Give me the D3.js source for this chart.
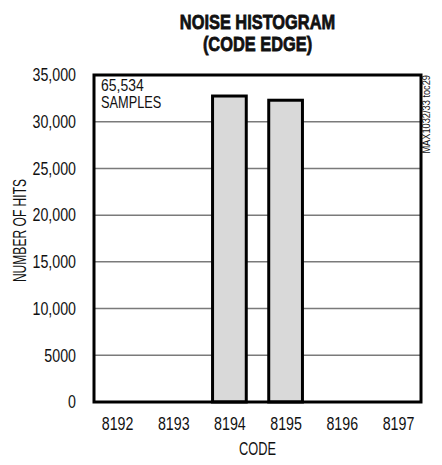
<!DOCTYPE html>
<html><head><meta charset="utf-8">
<script src="https://cdn.jsdelivr.net/npm/d3@7"></script>
<style>
html,body{margin:0;padding:0;background:#fff;}
text{font-family:"Liberation Sans",Arial,sans-serif;fill:#111;}
</style></head><body>
<svg id="c" width="442" height="465"></svg>
<script>
const codes = [8192, 8193, 8194, 8195, 8196, 8197];
const hits = [0, 0, 32750, 32300, 0, 0];
const yTicks = [0, 5000, 10000, 15000, 20000, 25000, 30000, 35000];
const yTickLabels = ["0", "5000", "10,000", "15,000", "20,000", "25,000", "30,000", "35,000"];
const titleLines = ["NOISE HISTOGRAM", "(CODE EDGE)"];
const noteLines = ["65,534", "SAMPLES"];

const svg = d3.select("#c");
const m = {l: 94, r: 421, t: 75, b: 402};
const x = d3.scaleLinear().domain([8191.59, 8197.41]).range([m.l, m.r]);
const y = d3.scaleLinear().domain([0, 35000]).range([m.b, m.t]);

function squeeze(sel, f) {
  sel.each(function() {
    const L = this.getComputedTextLength();
    this.setAttribute("textLength", L * f);
    this.setAttribute("lengthAdjust", "spacingAndGlyphs");
  });
}

// gridlines
svg.append("g").selectAll("line").data(yTicks.slice(1, -1)).join("line")
  .attr("x1", m.l).attr("x2", m.r).attr("y1", d => y(d)).attr("y2", d => y(d))
  .attr("stroke", "#7a7a7a").attr("stroke-width", 1.5);

// bars
const halfW = 0.3;
svg.append("g").selectAll("rect").data(codes.map((c, i) => ({c, v: hits[i]})).filter(d => d.v > 0)).join("rect")
  .attr("x", d => x(d.c - halfW)).attr("width", d => x(d.c + halfW) - x(d.c - halfW))
  .attr("y", d => y(d.v)).attr("height", d => y(0) - y(d.v))
  .attr("fill", "#d9d9d9").attr("stroke", "#000").attr("stroke-width", 3);

// frame
svg.append("rect").attr("x", m.l).attr("y", m.t).attr("width", m.r - m.l).attr("height", m.b - m.t)
  .attr("fill", "none").attr("stroke", "#000").attr("stroke-width", 3);

// y axis
const yAxis = d3.axisLeft(y).tickValues(yTicks).tickFormat((d, i) => yTickLabels[i]).tickSize(0).tickPadding(18);
const ga = svg.append("g").attr("transform", `translate(${m.l},0)`).call(yAxis);
ga.select(".domain").remove();
ga.selectAll("text").attr("font-size", 18).attr("font-family", null).attr("fill", "#111").call(squeeze, 0.79);

// x axis
const xAxis = d3.axisBottom(x).tickValues(codes).tickFormat(d3.format("d")).tickSize(0).tickPadding(15);
const gx = svg.append("g").attr("transform", `translate(0,${m.b})`).call(xAxis);
gx.select(".domain").remove();
gx.selectAll("text").attr("font-size", 18).attr("font-family", null).attr("fill", "#111").call(squeeze, 0.79);

// titles
svg.append("g").selectAll("text").data(titleLines).join("text")
  .attr("x", (m.l + m.r) / 2).attr("y", (d, i) => 29 + i * 22)
  .attr("text-anchor", "middle").attr("font-weight", "bold").attr("font-size", 21)
  .style("stroke", "#111").style("stroke-width", 0.8)
  .text(d => d).call(squeeze, 0.78);

svg.append("g").selectAll("text").data(noteLines).join("text")
  .attr("x", 101).attr("y", (d, i) => 91 + i * 17)
  .attr("font-size", 17).text(d => d)
  .each(function(d, i) { squeeze(d3.select(this), i === 0 ? 0.82 : 0.75); });

const yt = svg.append("text").attr("transform", `translate(20,${(m.t + m.b) / 2 - 8}) rotate(-90)`)
  .attr("text-anchor", "middle").attr("dominant-baseline", "central").attr("font-size", 18).text("NUMBER OF HITS");
squeeze(yt, 0.67);

const xt = svg.append("text").attr("x", (m.l + m.r) / 2).attr("y", 455)
  .attr("text-anchor", "middle").attr("font-size", 18).text("CODE");
squeeze(xt, 0.71);

const mt = svg.append("text").attr("transform", `translate(426,75) rotate(-90)`)
  .attr("text-anchor", "end").attr("dominant-baseline", "central").attr("font-size", 10.5).text("MAX1032/33 toc29");
squeeze(mt, 0.88);
</script>
</body></html>
